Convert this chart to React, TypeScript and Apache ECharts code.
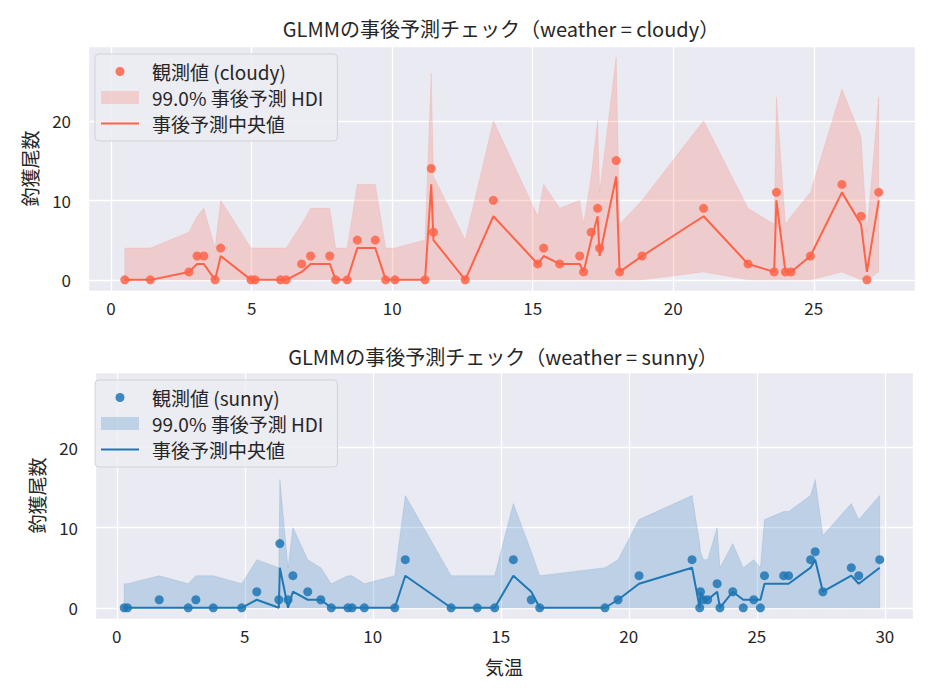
import React, { useEffect, useRef } from "react";
import * as echarts from "echarts";

// ---- data: weather = cloudy ----
const CLOUDY_X = [0.49, 1.4, 2.77, 3.06, 3.3, 3.7, 3.9, 4.98, 5.12, 6.03, 6.23, 6.78, 7.1, 7.78, 7.99, 8.4, 8.76, 9.4, 9.77, 10.1, 11.17, 11.39, 11.47, 12.6, 13.6, 15.18, 15.39, 15.96, 16.67, 16.81, 17.08, 17.31, 17.38, 17.97, 18.09, 18.89, 21.08, 22.66, 23.59, 23.67, 23.99, 24.19, 24.88, 26.0, 26.68, 26.89, 27.31];
const CLOUDY_OBS = [0, 0, 1, 3, 3, 0, 4, 0, 0, 0, 0, 2, 3, 3, 0, 0, 5, 5, 0, 0, 0, 14, 6, 0, 10, 2, 4, 2, 3, 1, 6, 9, 4, 15, 1, 3, 9, 2, 1, 11, 1, 1, 3, 12, 8, 0, 11];
const CLOUDY_MED = [0, 0, 1, 2, 2, 0, 3, 0, 0, 0, 0, 1, 2, 2, 0, 0, 4, 4, 0, 0, 0, 12, 5, 0, 8, 2, 3, 2, 2, 1, 5, 8, 3, 13, 1, 3, 8, 2, 1, 10, 1, 1, 3, 11, 7, 1, 10];
const CLOUDY_LO = [0, 0, 0, 0, 0, 0, 0, 0, 0, 0, 0, 0, 0, 0, 0, 0, 0, 0, 0, 0, 0, 0, 0, 0, 0, 0, 0, 0, 0, 0, 0, 0, 0, 0, 0, 0, 1, 0, 0, 0, 0, 0, 0, 1, 0, 0, 1];
const CLOUDY_HI = [4, 4, 6, 8, 9, 4, 10, 4, 4, 4, 4, 7, 9, 9, 4, 4, 12, 12, 4, 4, 5, 26, 13, 5, 20, 8, 12, 9, 10, 7, 13, 20, 11, 28, 7, 10, 20, 9, 7, 23, 7, 8, 11, 24, 18, 6, 23];

// ---- data: weather = sunny ----
const SUNNY_X = [0.29, 0.42, 1.66, 2.79, 3.09, 3.77, 4.88, 5.47, 6.33, 6.37, 6.69, 6.88, 7.46, 7.97, 8.38, 9.03, 9.19, 9.67, 10.86, 11.27, 13.06, 14.08, 14.76, 15.49, 16.19, 16.52, 19.07, 19.58, 20.4, 22.47, 22.77, 22.8, 22.92, 23.08, 23.45, 23.56, 24.06, 24.47, 24.88, 25.14, 25.3, 26.05, 26.24, 27.1, 27.28, 27.58, 28.69, 28.98, 29.8];
const SUNNY_OBS = [0, 0, 1, 0, 1, 0, 0, 2, 1, 8, 1, 4, 2, 1, 0, 0, 0, 0, 0, 6, 0, 0, 0, 6, 1, 0, 0, 1, 4, 6, 0, 2, 1, 1, 3, 0, 2, 0, 1, 0, 4, 4, 4, 6, 7, 2, 5, 4, 6];
const SUNNY_MED = [0, 0, 0, 0, 0, 0, 0, 1, 0, 5, 0, 2, 1, 1, 0, 0, 0, 0, 0, 4, 0, 0, 0, 4, 2, 0, 0, 1, 3, 5, 0, 2, 1, 1, 2, 0, 2, 1, 1, 1, 3, 3, 3, 5, 6, 2, 4, 3, 5];
const SUNNY_LO = [0, 0, 0, 0, 0, 0, 0, 0, 0, 0, 0, 0, 0, 0, 0, 0, 0, 0, 0, 0, 0, 0, 0, 0, 0, 0, 0, 0, 0, 0, 0, 0, 0, 0, 0, 0, 0, 0, 0, 0, 0, 0, 0, 0, 0, 0, 0, 0, 0];
const SUNNY_HI = [3, 3, 4, 3, 4, 4, 3, 6, 5, 16, 5, 10, 6, 5, 3, 4, 4, 3, 4, 14, 4, 4, 4, 13, 7, 4, 5, 6, 11, 14, 8, 7, 6, 6, 10, 5, 8, 5, 6, 5, 11, 12, 12, 14, 16, 9, 13, 11, 14];

const TITLES = ["GLMMの事後予測チェック（weather = cloudy）", "GLMMの事後予測チェック（weather = sunny）"];
const OBS_NAMES = ["観測値 (cloudy)", "観測値 (sunny)"];
const HDI_NAME = "99.0% 事後予測 HDI";
const MED_NAME = "事後予測中央値";
const Y_NAME = "釣獲尾数";
const X_NAME = "気温";

const FONT = "'Noto Sans CJK JP', 'Noto Sans', sans-serif";
const TXT = "#262626";
const BG = "#EAEAF2";
const COLORS = ["#FF6347", "#1f77b4"];
const BANDS = ["rgba(255,99,71,0.22)", "rgba(31,119,180,0.22)"];

const CIRCLE_ICON = "path://M0,0 M38,13 M23.5,6.5 A4.5,4.5,0,1,1,14.5,6.5 A4.5,4.5,0,1,1,23.5,6.5 Z";
const LINE_ICON = "path://M0,5.5 L38,5.5 L38,7.5 L0,7.5 Z";

export default function App() {
  const ref = useRef<HTMLDivElement>(null);
  useEffect(() => {
    if (!ref.current) return;
    const chart = echarts.init(ref.current, undefined, { renderer: "svg" });
    const sets = [
      { x: CLOUDY_X, obs: CLOUDY_OBS, med: CLOUDY_MED, lo: CLOUDY_LO, hi: CLOUDY_HI },
      { x: SUNNY_X, obs: SUNNY_OBS, med: SUNNY_MED, lo: SUNNY_LO, hi: SUNNY_HI },
    ];
    const grids = [
      { left: 88, right: 15, top: 46, height: 245 },
      { left: 95, right: 17, top: 372, height: 247 },
    ];
    const xRanges = [
      [-0.82, 28.6],
      [-0.85, 31.1],
    ];
    const series: any[] = [];
    sets.forEach((s, i) => {
      const n = s.x.length;
      series.push({
        type: "custom",
        name: HDI_NAME,
        xAxisIndex: i,
        yAxisIndex: i,
        silent: true,
        itemStyle: { color: BANDS[i] },
        encode: { x: 0, y: [1, 2] },
        data: s.x.map((v, k) => [v, s.lo[k], s.hi[k]]),
        renderItem: (params: any, api: any) => {
          if (params.dataIndex !== 0) return null;
          const upper: number[][] = [];
          const lower: number[][] = [];
          for (let k = 0; k < n; k++) {
            const xv = api.value(0, k);
            upper.push(api.coord([xv, api.value(2, k)]));
            lower.push(api.coord([xv, api.value(1, k)]));
          }
          const pts = upper.concat(lower.reverse());
          return {
            type: "polygon",
            shape: { points: pts },
            style: { fill: BANDS[i], stroke: BANDS[i], lineWidth: 0.6 },
          };
        },
        z: 1,
      });
      series.push({
        type: "line",
        name: MED_NAME,
        xAxisIndex: i,
        yAxisIndex: i,
        symbol: "none",
        lineStyle: { color: COLORS[i], width: 2 },
        itemStyle: { color: COLORS[i] },
        data: s.x.map((v, k) => [v, s.med[k]]),
        z: 3,
      });
      series.push({
        type: "scatter",
        name: OBS_NAMES[i],
        xAxisIndex: i,
        yAxisIndex: i,
        symbolSize: 9,
        itemStyle: { color: COLORS[i], opacity: 0.85 },
        data: s.x.map((v, k) => [v, s.obs[k]]),
        z: 4,
      });
    });

    const axisLabel = { color: TXT, fontSize: 17, fontFamily: FONT, showMinLabel: false, showMaxLabel: false };
    const option: any = {
      animation: false,
      title: TITLES.map((t, i) => ({
        text: t,
        left: i === 0 ? 501 : 503,
        top: i === 0 ? 18 : 346,
        textAlign: "center",
        padding: 0,
        textStyle: { fontSize: 20, fontWeight: "normal", color: TXT, fontFamily: FONT },
      })),
      grid: grids.map((g) => ({ ...g, show: true, backgroundColor: BG, borderWidth: 0, containLabel: false })),
      xAxis: [0, 1].map((i) => ({
        type: "value",
        gridIndex: i,
        min: xRanges[i][0],
        max: xRanges[i][1],
        splitNumber: 6,
        axisLine: { show: false },
        axisTick: { show: false },
        axisLabel: { ...axisLabel, margin: 8 },
        splitLine: { show: true, lineStyle: { color: "#ffffff", width: 1.3 } },
        name: i === 1 ? X_NAME : "",
        nameLocation: "middle",
        nameGap: 38,
        nameTextStyle: { fontSize: 19, color: TXT, fontFamily: FONT },
      })),
      yAxis: [0, 1].map((i) => ({
        type: "value",
        gridIndex: i,
        min: -1.4,
        max: 29.4,
        splitNumber: 3,
        axisLine: { show: false },
        axisTick: { show: false },
        axisLabel: { ...axisLabel, margin: 17 },
        splitLine: { show: true, lineStyle: { color: "#ffffff", width: 1.3 } },
        name: Y_NAME,
        nameLocation: "middle",
        nameRotate: 90,
        nameGap: 49,
        nameTextStyle: { fontSize: 19, color: TXT, fontFamily: FONT },
      })),
      legend: [0, 1].map((i) => ({
        orient: "vertical",
        left: 95,
        top: i === 0 ? 54 : 380,
        padding: [8, 14, 8, 6],
        itemGap: 7,
        itemWidth: 38,
        itemHeight: 13,
        backgroundColor: "rgba(236,236,243,0.85)",
        borderColor: "#d2d2da",
        borderWidth: 1,
        borderRadius: 4,
        selectedMode: false,
        itemStyle: { borderWidth: 0 },
        textStyle: { fontSize: 19, color: TXT, fontFamily: FONT, padding: [0, 0, 0, 8] },
        data: [
          { name: OBS_NAMES[i], icon: CIRCLE_ICON, itemStyle: { color: COLORS[i], opacity: 0.85, borderWidth: 0 } },
          { name: HDI_NAME, icon: "rect", itemStyle: { color: BANDS[i], opacity: 1, borderWidth: 0 } },
          { name: MED_NAME, icon: LINE_ICON, itemStyle: { color: COLORS[i], opacity: 1, borderWidth: 0 } },
        ],
      })),
      series,
    };
    chart.setOption(option);
    return () => chart.dispose();
  }, []);
  return <div ref={ref} style={{ position: "fixed", left: 0, top: 0, width: 930, height: 693, background: "#fff" }} />;
}
